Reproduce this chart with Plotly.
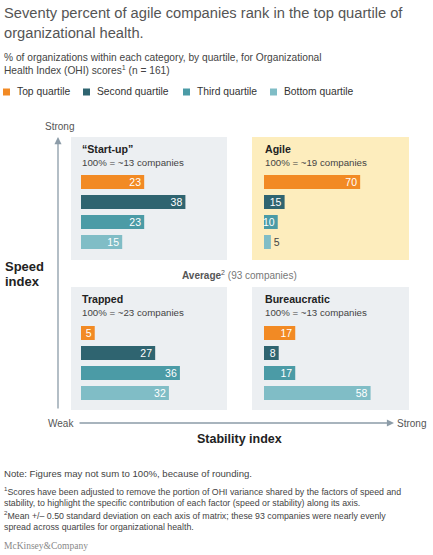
import plotly.graph_objects as go

# quartile shares (%) per category
quartiles = ["Top quartile", "Second quartile", "Third quartile", "Bottom quartile"]
quartile_colors = ["#F28A24", "#2F6470", "#4B9BA6", "#80BDC6"]

startup = [23, 38, 23, 15]
agile = [70, 15, 10, 5]
trapped = [5, 27, 36, 32]
bureaucratic = [17, 8, 17, 58]

panel_names = ["“Start-up”", "Agile", "Trapped", "Bureaucratic"]
panel_sizes = ["100% = ~13 companies", "100% = ~19 companies",
               "100% = ~23 companies", "100% = ~13 companies"]
panel_values = [startup, agile, trapped, bureaucratic]

W, H = 433, 555
FONT = "Liberation Sans, Arial, sans-serif"


def px(x):
    return x / W


def py(y):
    return 1 - y / H


# panel layout: (left, top, right, bottom) in px, bar area start, x range
panels = [
    dict(box=(71, 137, 227, 260), bar_x=81, rows_top=172, xmax=49.5, bg="#ECEFF2"),
    dict(box=(252, 137, 409, 260), bar_x=264, rows_top=172, xmax=99, bg="#FDEDBD"),
    dict(box=(71, 287, 227, 410), bar_x=81, rows_top=323, xmax=49.5, bg="#ECEFF2"),
    dict(box=(252, 287, 409, 410), bar_x=264, rows_top=323, xmax=74, bg="#ECEFF2"),
]

fig = go.Figure()
layout_axes = {}
shapes = []
annotations = []

for i, (p, vals) in enumerate(zip(panels, panel_values)):
    n = "" if i == 0 else str(i + 1)
    l, t, r, b = p["box"]
    shapes.append(dict(type="rect", xref="paper", yref="paper",
                       x0=px(l), x1=px(r), y0=py(b), y1=py(t),
                       fillcolor=p["bg"], line=dict(width=0), layer="below"))
    positions = ["outside" if v * (136 / p["xmax"]) < 10 else "inside" for v in vals]
    fig.add_trace(go.Bar(
        x=vals, y=quartiles, orientation="h",
        marker=dict(color=quartile_colors, line=dict(width=0)),
        text=[str(v) for v in vals], textposition=positions, textangle=0,
        insidetextanchor="end", constraintext="none",
        insidetextfont=dict(color="white", size=10.5, family=FONT),
        outsidetextfont=dict(color="#444", size=10.5, family=FONT),
        cliponaxis=False, hoverinfo="skip", showlegend=False,
        xaxis="x" + n, yaxis="y" + n,
    ))
    layout_axes["xaxis" + n] = dict(
        domain=[px(p["bar_x"]), px(p["bar_x"] + 136)], range=[0, p["xmax"]],
        visible=False, anchor="y" + n, fixedrange=True)
    layout_axes["yaxis" + n] = dict(
        domain=[py(p["rows_top"] + 80), py(p["rows_top"])],
        autorange="reversed", visible=False, anchor="x" + n, fixedrange=True)
    annotations.append(dict(x=px(p["bar_x"] - 1), y=py(t + 12), xref="paper", yref="paper",
                            text="<b>" + panel_names[i] + "</b>", showarrow=False,
                            xanchor="left", yanchor="middle",
                            font=dict(size=10.6, color="#222", family=FONT)))
    annotations.append(dict(x=px(p["bar_x"] - 1), y=py(t + 25), xref="paper", yref="paper",
                            text=panel_sizes[i], showarrow=False,
                            xanchor="left", yanchor="middle",
                            font=dict(size=9.7, color="#444", family=FONT)))


def txt(x, y, text, size, color="#444", anchor="left", family=FONT):
    annotations.append(dict(x=px(x), y=py(y), xref="paper", yref="paper", text=text,
                            showarrow=False, xanchor=anchor, yanchor="middle",
                            font=dict(size=size, color=color, family=family)))


# title and subtitle
txt(2, 13, "Seventy percent of agile companies rank in the top quartile of", 14.7, "#555")
txt(2, 33, "organizational health.", 14.7, "#555")
txt(2, 57, "% of organizations within each category, by quartile, for Organizational", 10.2)
txt(2, 70, "Health Index (OHI) scores<sup>1</sup> (n = 161)", 10.2)

# legend
legend_x = [3, 83, 183, 270]
for lx, name, col in zip(legend_x, quartiles, quartile_colors):
    shapes.append(dict(type="rect", xref="paper", yref="paper",
                       x0=px(lx), x1=px(lx + 7), y0=py(95.5), y1=py(88.5),
                       fillcolor=col, line=dict(width=0)))
    txt(lx + 12, 92, name, 10.3, "#333")

# axes arrows
arrow_col = "#8C9CA8"
annotations.append(dict(x=px(58), y=py(137), ax=0, ay=273, xref="paper", yref="paper",
                        axref="pixel", ayref="pixel", text="", showarrow=True,
                        arrowhead=2, arrowsize=1.1, arrowwidth=1.3, arrowcolor=arrow_col))
annotations.append(dict(x=px(394), y=py(423), ax=-316, ay=0, xref="paper", yref="paper",
                        text="", showarrow=True, arrowhead=2, arrowsize=1.1,
                        arrowwidth=1.3, arrowcolor=arrow_col))
txt(59, 126, "Strong", 10, "#555", "center")
txt(46, 423, "Weak", 10, "#555")
txt(395, 423, "Strong", 10, "#555")
txt(3, 266, "<b>Speed</b>", 13, "#222")
txt(3, 281, "<b>index</b>", 13, "#222")
txt(240, 439, "<b>Stability index</b>", 12.5, "#222", "center")
txt(240, 275, "<b>Average</b><sup>2</sup> <span style='color:#777'>(93 companies)</span>",
    10, "#555", "center")

# footnotes
txt(2, 473, "Note: Figures may not sum to 100%, because of rounding.", 9.6)
txt(2, 491, "<sup>1</sup>Scores have been adjusted to remove the portion of OHI variance "
            "shared by the factors of speed and", 8.8)
txt(2, 503, "stability, to highlight the specific contribution of each factor "
            "(speed or stability) along its axis.", 8.8)
txt(2, 515, "<sup>2</sup>Mean +/– 0.50 standard deviation on each axis of matrix; "
            "these 93 companies were nearly evenly", 8.8)
txt(2, 527, "spread across quartiles for organizational health.", 8.8)
txt(2, 546, "McKinsey&Company", 9.5, "#888", family="Liberation Serif, Times New Roman, serif")

fig.update_layout(
    width=W, height=H, margin=dict(l=0, r=0, t=0, b=0),
    paper_bgcolor="white", plot_bgcolor="rgba(0,0,0,0)",
    bargap=0.3, shapes=shapes, annotations=annotations,
    font=dict(family=FONT), **layout_axes,
)

# drop the default page margin so the figure sits at the window's corner
fig.write_html("out.html", config={"displayModeBar": False},
               post_script="document.body.style.margin='0';")
